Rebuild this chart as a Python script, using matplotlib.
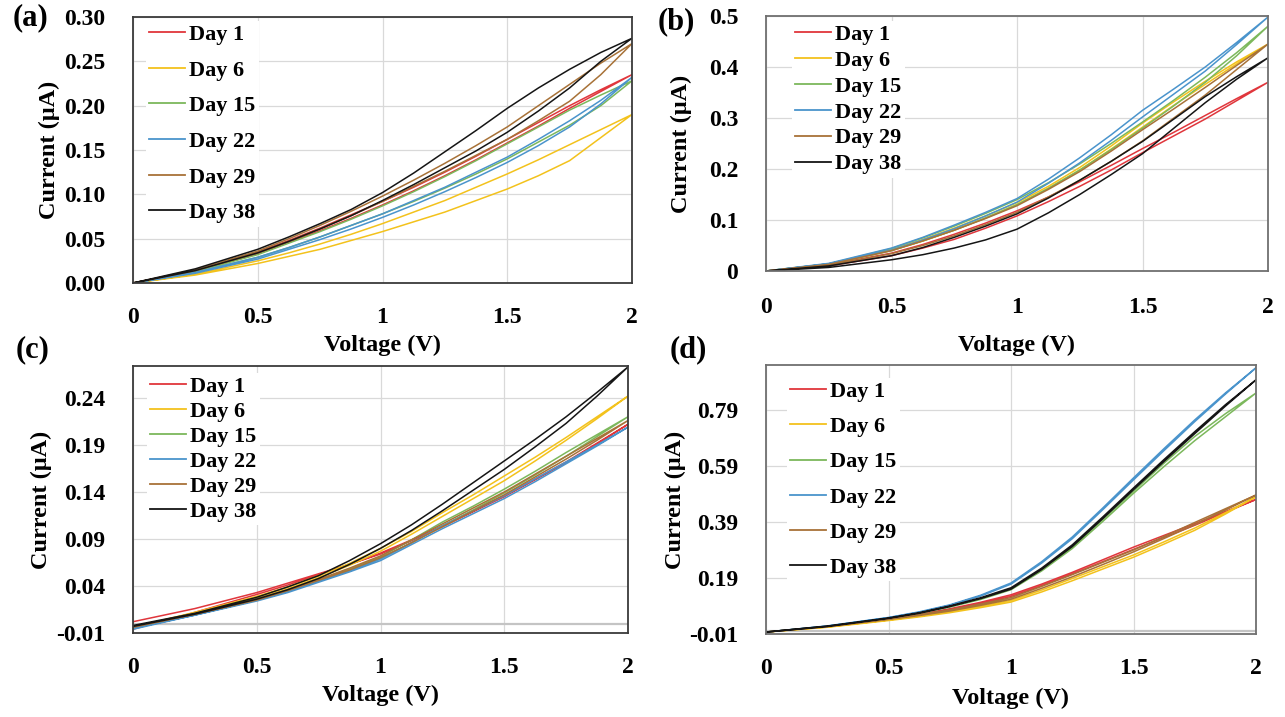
import matplotlib

matplotlib.use("Agg")
import matplotlib.pyplot as plt
import numpy as np

plt.rcParams["font.family"] = ["Liberation Serif", "DejaVu Serif"]
plt.rcParams["font.weight"] = "bold"

W, H = 1285, 717

VOLTS = [0.0, 0.25, 0.5, 0.625, 0.75, 0.875, 1.0, 1.125, 1.25, 1.375, 1.5, 1.625, 1.75, 1.875, 2.0]
DAYS = ["Day 1", "Day 6", "Day 15", "Day 22", "Day 29", "Day 38"]
COLORS = ["#e0363c", "#f3c21c", "#7cb85c", "#4a94cc", "#a87238", "#151515"]
XTICK_LABELS = ["0", "0.5", "1", "1.5", "2"]

# (a) forward / return sweeps, current in uA
A_UP = [
    [0, 0.014, 0.035, 0.048, 0.062, 0.077, 0.092, 0.108, 0.125, 0.143, 0.162, 0.181, 0.200, 0.218, 0.235],
    [0, 0.010, 0.025, 0.034, 0.044, 0.055, 0.067, 0.080, 0.093, 0.108, 0.123, 0.139, 0.156, 0.173, 0.190],
    [0, 0.013, 0.032, 0.045, 0.058, 0.072, 0.087, 0.103, 0.120, 0.138, 0.157, 0.176, 0.195, 0.212, 0.228],
    [0, 0.012, 0.029, 0.040, 0.052, 0.065, 0.078, 0.093, 0.108, 0.125, 0.142, 0.162, 0.183, 0.206, 0.232],
    [0, 0.015, 0.036, 0.050, 0.065, 0.081, 0.098, 0.116, 0.135, 0.155, 0.176, 0.200, 0.224, 0.248, 0.270],
    [0, 0.016, 0.038, 0.052, 0.067, 0.083, 0.102, 0.124, 0.148, 0.172, 0.197, 0.220, 0.241, 0.260, 0.276],
]
A_DOWN = [
    [0, 0.013, 0.033, 0.046, 0.059, 0.073, 0.088, 0.104, 0.121, 0.139, 0.158, 0.177, 0.197, 0.216, 0.235],
    [0, 0.009, 0.022, 0.030, 0.038, 0.048, 0.058, 0.069, 0.080, 0.093, 0.106, 0.121, 0.138, 0.164, 0.190],
    [0, 0.012, 0.029, 0.040, 0.052, 0.065, 0.078, 0.092, 0.107, 0.123, 0.140, 0.159, 0.178, 0.200, 0.228],
    [0, 0.011, 0.027, 0.038, 0.049, 0.061, 0.074, 0.088, 0.103, 0.119, 0.136, 0.155, 0.176, 0.202, 0.232],
    [0, 0.014, 0.034, 0.047, 0.061, 0.076, 0.092, 0.109, 0.126, 0.144, 0.162, 0.183, 0.205, 0.235, 0.270],
    [0, 0.014, 0.034, 0.047, 0.061, 0.076, 0.093, 0.111, 0.130, 0.149, 0.170, 0.194, 0.220, 0.250, 0.276],
]
A_YTICKS = ["0.00", "0.05", "0.10", "0.15", "0.20", "0.25", "0.30"]

# (b)
B_UP = [
    [0, 0.012, 0.035, 0.052, 0.072, 0.094, 0.118, 0.145, 0.175, 0.207, 0.240, 0.272, 0.305, 0.338, 0.370],
    [0, 0.014, 0.042, 0.062, 0.084, 0.108, 0.134, 0.166, 0.203, 0.245, 0.290, 0.332, 0.372, 0.410, 0.445],
    [0, 0.014, 0.044, 0.065, 0.088, 0.113, 0.140, 0.173, 0.210, 0.250, 0.292, 0.335, 0.380, 0.428, 0.480],
    [0, 0.015, 0.045, 0.066, 0.090, 0.115, 0.142, 0.180, 0.222, 0.267, 0.315, 0.357, 0.400, 0.448, 0.498],
    [0, 0.013, 0.040, 0.059, 0.080, 0.103, 0.128, 0.160, 0.195, 0.235, 0.277, 0.318, 0.360, 0.403, 0.445],
    [0, 0.010, 0.030, 0.046, 0.066, 0.088, 0.112, 0.143, 0.178, 0.215, 0.254, 0.298, 0.342, 0.381, 0.418],
]
B_DOWN = [
    [0, 0.010, 0.030, 0.045, 0.062, 0.084, 0.108, 0.136, 0.166, 0.198, 0.232, 0.265, 0.298, 0.334, 0.370],
    [0, 0.013, 0.040, 0.059, 0.080, 0.104, 0.130, 0.162, 0.198, 0.239, 0.282, 0.325, 0.366, 0.406, 0.445],
    [0, 0.013, 0.040, 0.059, 0.080, 0.104, 0.130, 0.162, 0.198, 0.238, 0.280, 0.324, 0.370, 0.422, 0.480],
    [0, 0.014, 0.041, 0.061, 0.083, 0.108, 0.135, 0.172, 0.212, 0.256, 0.302, 0.347, 0.392, 0.444, 0.498],
    [0, 0.011, 0.034, 0.050, 0.069, 0.091, 0.115, 0.145, 0.178, 0.215, 0.255, 0.300, 0.345, 0.395, 0.445],
    [0, 0.007, 0.022, 0.032, 0.045, 0.061, 0.082, 0.114, 0.150, 0.189, 0.230, 0.280, 0.330, 0.376, 0.418],
]
B_YTICKS = ["0", "0.1", "0.2", "0.3", "0.4", "0.5"]

# (c)
C_UP = [
    [-0.006, 0.012, 0.031, 0.041, 0.052, 0.063, 0.075, 0.089, 0.104, 0.120, 0.136, 0.154, 0.172, 0.192, 0.212],
    [-0.004, 0.012, 0.029, 0.039, 0.051, 0.064, 0.080, 0.098, 0.118, 0.137, 0.157, 0.177, 0.198, 0.220, 0.242],
    [-0.005, 0.010, 0.026, 0.035, 0.046, 0.058, 0.071, 0.089, 0.108, 0.125, 0.143, 0.162, 0.182, 0.201, 0.220],
    [-0.006, 0.009, 0.025, 0.034, 0.045, 0.056, 0.069, 0.086, 0.104, 0.120, 0.136, 0.154, 0.172, 0.190, 0.209],
    [-0.004, 0.010, 0.026, 0.036, 0.047, 0.059, 0.072, 0.089, 0.106, 0.123, 0.140, 0.159, 0.178, 0.197, 0.216],
    [-0.002, 0.011, 0.028, 0.039, 0.051, 0.067, 0.085, 0.105, 0.127, 0.150, 0.173, 0.196, 0.220, 0.246, 0.273],
]
C_DOWN = [
    [0.002, 0.016, 0.033, 0.043, 0.053, 0.063, 0.074, 0.088, 0.103, 0.119, 0.135, 0.153, 0.171, 0.191, 0.212],
    [-0.003, 0.011, 0.027, 0.037, 0.049, 0.062, 0.077, 0.095, 0.114, 0.133, 0.152, 0.173, 0.195, 0.218, 0.242],
    [-0.004, 0.010, 0.025, 0.035, 0.045, 0.056, 0.069, 0.086, 0.104, 0.121, 0.139, 0.158, 0.178, 0.199, 0.220],
    [-0.005, 0.009, 0.024, 0.033, 0.044, 0.055, 0.067, 0.084, 0.101, 0.117, 0.133, 0.151, 0.170, 0.189, 0.209],
    [-0.003, 0.010, 0.025, 0.035, 0.046, 0.057, 0.070, 0.086, 0.103, 0.120, 0.137, 0.156, 0.175, 0.195, 0.216],
    [-0.003, 0.010, 0.026, 0.036, 0.048, 0.063, 0.080, 0.099, 0.120, 0.142, 0.164, 0.188, 0.213, 0.242, 0.273],
]
C_YTICKS = ["-0.01", "0.04", "0.09", "0.14", "0.19", "0.24"]

# (d)
D_UP = [
    [-0.003, 0.018, 0.045, 0.061, 0.080, 0.103, 0.130, 0.168, 0.210, 0.255, 0.300, 0.342, 0.384, 0.427, 0.470],
    [-0.003, 0.015, 0.040, 0.054, 0.070, 0.089, 0.110, 0.147, 0.188, 0.230, 0.272, 0.319, 0.368, 0.423, 0.480],
    [-0.003, 0.018, 0.047, 0.066, 0.088, 0.116, 0.152, 0.220, 0.302, 0.400, 0.500, 0.600, 0.695, 0.776, 0.850],
    [-0.003, 0.019, 0.049, 0.069, 0.094, 0.128, 0.172, 0.248, 0.336, 0.440, 0.547, 0.652, 0.754, 0.850, 0.940],
    [-0.003, 0.017, 0.044, 0.059, 0.076, 0.097, 0.120, 0.160, 0.202, 0.246, 0.290, 0.338, 0.388, 0.437, 0.486],
    [-0.003, 0.018, 0.047, 0.066, 0.090, 0.119, 0.155, 0.225, 0.308, 0.408, 0.511, 0.613, 0.712, 0.808, 0.897],
]
D_DOWN = [
    [-0.003, 0.017, 0.043, 0.058, 0.076, 0.098, 0.124, 0.162, 0.204, 0.248, 0.292, 0.335, 0.378, 0.424, 0.470],
    [-0.003, 0.014, 0.038, 0.051, 0.066, 0.084, 0.104, 0.140, 0.180, 0.222, 0.264, 0.311, 0.360, 0.418, 0.480],
    [-0.003, 0.017, 0.046, 0.064, 0.086, 0.113, 0.148, 0.215, 0.295, 0.392, 0.492, 0.588, 0.680, 0.765, 0.850],
    [-0.003, 0.018, 0.048, 0.067, 0.092, 0.125, 0.168, 0.243, 0.330, 0.434, 0.540, 0.645, 0.748, 0.846, 0.940],
    [-0.003, 0.016, 0.042, 0.056, 0.072, 0.092, 0.114, 0.153, 0.194, 0.238, 0.283, 0.331, 0.380, 0.432, 0.486],
    [-0.003, 0.017, 0.046, 0.064, 0.088, 0.116, 0.150, 0.220, 0.302, 0.402, 0.505, 0.606, 0.705, 0.803, 0.897],
]
D_YTICKS = ["-0.01", "0.19", "0.39", "0.59", "0.79"]


def px_box(left, top, right, bottom):
    return [left / W, 1 - bottom / H, (right - left) / W, (bottom - top) / H]


panels = [
    dict(tag="(a)", up=A_UP, down=A_DOWN, box=(133, 17, 632, 283), ylim=(0, 0.30),
         yticks=np.arange(0, 0.301, 0.05), ylabels=A_YTICKS, zero=False, xpad=17,
         leg=(146, 21, 0.68), ylab_x=49, xlab_y=345, letter=(30, 18), spine="#3a3a3a"),
    dict(tag="(b)", up=B_UP, down=B_DOWN, box=(766, 16, 1268, 271), ylim=(0, 0.5),
         yticks=np.arange(0, 0.501, 0.1), ylabels=B_YTICKS, zero=False, xpad=19,
         leg=(792, 21, 0.24), ylab_x=681, xlab_y=345, letter=(676, 22), spine="#707070"),
    dict(tag="(c)", up=C_UP, down=C_DOWN, box=(133, 366, 628, 633), ylim=(-0.01, 0.274),
         yticks=np.arange(-0.01, 0.25, 0.05), ylabels=C_YTICKS, zero=True, xpad=17,
         leg=(147, 373, 0.2), ylab_x=41, xlab_y=695, letter=(33, 350), spine="#3a3a3a"),
    dict(tag="(d)", up=D_UP, down=D_DOWN, box=(766, 365, 1256, 634), ylim=(-0.01, 0.95),
         yticks=np.arange(-0.01, 0.80, 0.2), ylabels=D_YTICKS, zero=True, xpad=17,
         leg=(787, 378, 0.66), ylab_x=675, xlab_y=698, letter=(688, 350), spine="#707070"),
]

fig = plt.figure(figsize=(W / 100, H / 100), dpi=100)
FS = 16

for p in panels:
    left, top, right, bottom = p["box"]
    ax = fig.add_axes(px_box(*p["box"]))
    ax.set_xlim(0, 2)
    ax.set_ylim(*p["ylim"])
    ax.grid(True, color="#d9d9d9", lw=0.9)
    ax.set_axisbelow(True)
    if p["zero"]:
        ax.axhline(0, color="#c4c4c4", lw=1.6, zorder=1)

    # each day is one closed sweep: 0 -> 2 V and back
    handles = []
    for day, col, up, down in zip(DAYS, COLORS, p["up"], p["down"]):
        v = VOLTS + VOLTS[::-1]
        i = up + down[::-1]
        (ln,) = ax.plot(v, i, color=col, lw=1.1, label=day)
        handles.append(ln)

    ax.set_xticks([0, 0.5, 1, 1.5, 2])
    ax.set_xticklabels(XTICK_LABELS)
    ax.set_yticks(p["yticks"])
    ax.set_yticklabels(p["ylabels"])
    ax.tick_params(length=0, labelsize=17)
    ax.tick_params(axis="y", pad=20)
    ax.tick_params(axis="x", pad=p["xpad"])
    for s in ax.spines.values():
        s.set_color(p["spine"])
        s.set_linewidth(1.3)

    lx, ly, lsp = p["leg"]
    leg = ax.legend(handles=handles, loc="upper left",
                    bbox_to_anchor=(lx / W, 1 - ly / H), bbox_transform=fig.transFigure,
                    borderaxespad=0, borderpad=0.15, handlelength=1.6, handletextpad=0.2,
                    labelspacing=lsp, frameon=True, fancybox=False, framealpha=1,
                    edgecolor="none", prop=dict(size=FS, weight="bold"))
    for h in leg.get_lines():
        h.set_linewidth(1.3)

    height = bottom - top
    width = right - left
    ax.set_xlabel("Voltage (V)", fontsize=17.5, fontweight="bold")
    ax.xaxis.set_label_coords(0.5, -(p["xlab_y"] - bottom) / height)
    ax.xaxis.label.set_va("center")
    ax.set_ylabel("Current (μA)", fontsize=17.5, fontweight="bold")
    ax.yaxis.set_label_coords(-(left - p["ylab_x"]) / width, 0.5)
    ax.yaxis.label.set_va("center")

    fx, fy = p["letter"]
    fig.text(fx / W, 1 - fy / H, p["tag"], fontsize=22, fontweight="bold",
             ha="center", va="center")

fig.savefig("out.png", dpi=100)
